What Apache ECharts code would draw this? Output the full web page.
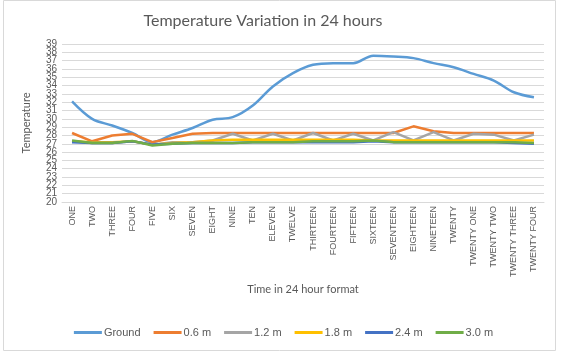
<!DOCTYPE html>
<html>
<head>
<meta charset="utf-8">
<script src="https://cdn.jsdelivr.net/npm/echarts@6/dist/echarts.min.js"></script>
<style>html,body{margin:0;padding:0;background:#fff}#c{width:567px;height:356px}</style>
</head>
<body>
<div id="c"></div>
<script>
const hours = ["ONE","TWO","THREE","FOUR","FIVE","SIX","SEVEN","EIGHT","NINE","TEN","ELEVEN","TWELVE","THIRTEEN","FOURTEEN","FIFTEEN","SIXTEEN","SEVENTEEN","EIGHTEEN","NINETEEN","TWENTY","TWENTY ONE","TWENTY TWO","TWENTY THREE","TWENTY FOUR"];
const ground = [32.1,30.0,29.2,28.3,27.2,28.1,28.9,29.9,30.2,31.6,33.9,35.5,36.5,36.7,36.7,37.6,37.5,37.3,36.7,36.2,35.4,34.6,33.2,32.6];
const m06 = [28.3,27.3,28.0,28.2,27.2,27.7,28.2,28.3,28.3,28.3,28.3,28.3,28.3,28.3,28.3,28.3,28.3,29.1,28.5,28.3,28.3,28.3,28.3,28.3];
const m12 = [27.3,27.1,27.1,27.3,26.9,27.2,27.2,27.4,28.2,27.4,28.2,27.4,28.3,27.4,28.2,27.4,28.4,27.4,28.4,27.4,28.2,28.1,27.4,28.1];
const m18 = [27.3,27.2,27.2,27.3,26.9,27.1,27.2,27.4,27.5,27.5,27.5,27.5,27.5,27.5,27.5,27.4,27.4,27.4,27.4,27.4,27.4,27.4,27.4,27.4];
const m24 = [27.2,27.1,27.1,27.3,26.9,27.0,27.1,27.1,27.1,27.2,27.2,27.2,27.2,27.2,27.2,27.3,27.2,27.2,27.2,27.2,27.2,27.2,27.1,27.0];
const m30 = [27.4,27.1,27.1,27.35,26.8,27.0,27.1,27.1,27.1,27.2,27.2,27.2,27.3,27.3,27.3,27.4,27.2,27.2,27.2,27.2,27.2,27.2,27.2,27.1];
const seriesNames = ["Ground","0.6 m","1.2 m","1.8 m","2.4 m","3.0 m"];
const seriesData = [ground, m06, m12, m18, m24, m30];
const colors = ["#5B9BD5","#ED7D31","#A5A5A5","#FFC000","#4472C4","#70AD47"];

const chart = echarts.init(document.getElementById('c'), null, {renderer:'canvas'});
const txt = '#595959';
chart.setOption({
  animation:false,
  color: colors,
  textStyle:{fontFamily:'Liberation Sans'},
  title:{text:'Temperature Variation in 24 hours', left:258, textAlign:'center', top:8,
    textStyle:{fontFamily:'Lato', fontSize:16, fontWeight:'normal', color:txt}},
  graphic:[{type:'rect', shape:{x:3.5,y:0.5,width:552,height:350}, style:{fill:'none', stroke:'#d9d9d9', lineWidth:1}, silent:true}],
  legend:{bottom:13, left:'center', itemWidth:28, itemHeight:3, itemGap:13, icon:'rect',
    textStyle:{fontSize:11, color:txt, fontFamily:'Liberation Sans', padding:[0,0,0,-3]},
    data: seriesNames},
  grid:{left:62, right:23, top:44, bottom:154},
  xAxis:{type:'category', data:hours, boundaryGap:true,
    name:'Time in 24 hour format', nameLocation:'middle', nameGap:82,
    nameTextStyle:{fontSize:11, color:txt, fontFamily:'Lato'},
    axisLine:{lineStyle:{color:'#d9d9d9'}}, axisTick:{show:false},
    axisLabel:{rotate:90, interval:0, fontSize:9, color:txt, margin:4}},
  yAxis:[{type:'value', min:20, max:39, interval:1, position:'left',
    name:'Temperature', nameLocation:'middle', nameGap:30, nameRotate:90,
    nameTextStyle:{fontSize:11, color:txt, fontFamily:'Lato'},
    axisLine:{show:false}, axisTick:{show:false},
    axisLabel:{fontSize:10, color:txt, margin:5, hideOverlap:false},
    splitLine:{lineStyle:{color:'#d9d9d9'}}},
   {type:'value', min:20, max:39, interval:19, position:'left', offset:0,
    axisLine:{show:false}, axisTick:{show:false}, splitLine:{show:false},
    axisLabel:{fontSize:10, color:txt, margin:5, showMinLabel:true, showMaxLabel:true}}],
  series: seriesNames.map((n,i)=>({name:n, type:'line', yAxisIndex:0, data:seriesData[i], symbol:'none',
    smooth: i===0 ? 0.35 : false, lineStyle:{width:2.5, color:colors[i]}}))
});
</script>
</body>
</html>
